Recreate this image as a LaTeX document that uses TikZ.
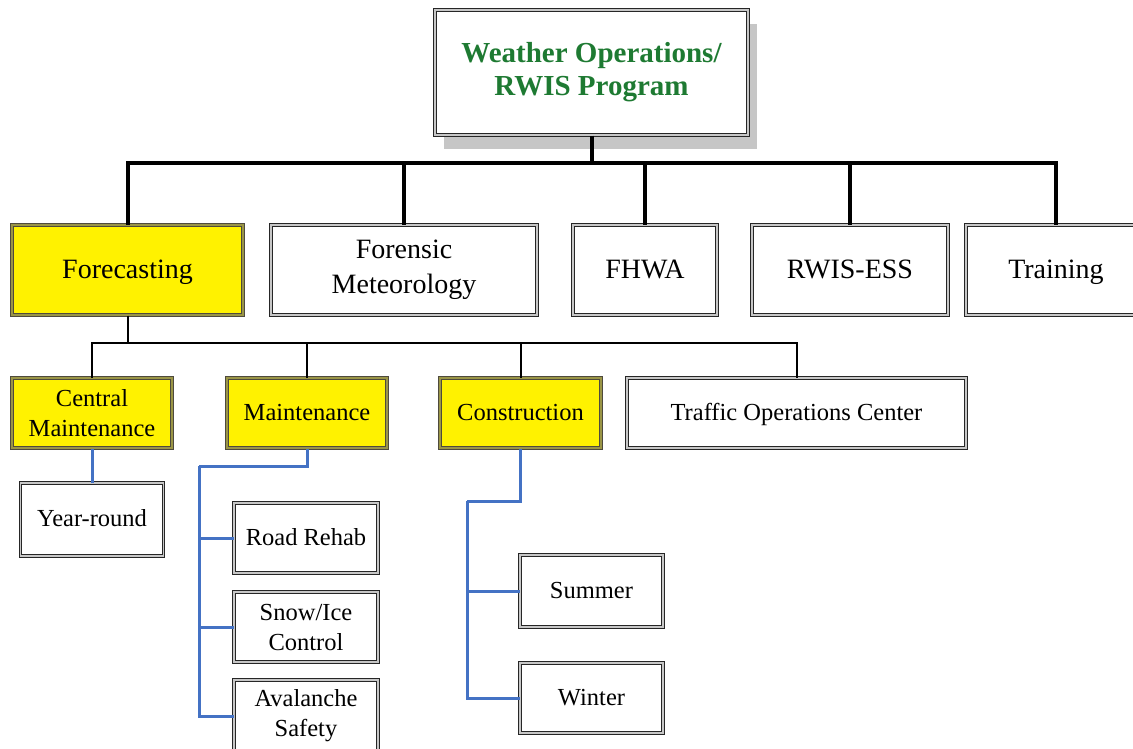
\documentclass[tikz,border=0pt]{standalone}
\usepackage{fontspec}
\setmainfont{Liberation Serif}
\usetikzlibrary{positioning,shadows}
\definecolor{titlegreen}{RGB}{30,122,50}
\definecolor{linkblue}{RGB}{68,114,196}

\begin{document}
\begin{tikzpicture}[x=1pt, y=-1pt,
        box/.style={draw=black!85, double=black!22, double distance=1.8pt, line width=1pt, rectangle, align=center, inner sep=2pt},
        wbox/.style={box, fill=white},
        ybox/.style={box, fill=yellow, draw=black!80!yellow, double=yellow!55!black},
        big/.style={font=\fontsize{28}{35}\selectfont},
        small/.style={font=\fontsize{24.5}{30}\selectfont},
        bigline/.style={text height=20pt, text depth=4pt},
        oneline/.style={text height=17pt, text depth=3pt},
        trunk/.style={line width=4pt},
        branch/.style={line width=2pt},
        twig/.style={line width=3pt, draw=linkblue}
    ]
        \path[use as bounding box, fill=white] (0,0) rectangle (1133,748);

        % Program
        \node[wbox, minimum width=313pt, minimum height=125pt, font=\fontsize{29}{33}\selectfont\bfseries, text=titlegreen,
              drop shadow={shadow xshift=9pt, shadow yshift=-14pt, fill=black!28, opacity=0.8}] (prog) at (591.5,72.5) {Weather Operations/\\RWIS Program};

        % Second level
        \node[ybox, big, bigline, minimum width=231pt, minimum height=90pt] (fore) at (127.5,270) {Forecasting};
        \node[wbox, big, minimum width=266pt, minimum height=90pt] (foren) at (404,270) {Forensic\\Meteorology};
        \node[wbox, big, bigline, minimum width=144pt, minimum height=90pt] (fhwa) at (645,270) {FHWA};
        \node[wbox, big, bigline, minimum width=196pt, minimum height=90pt] (rwis) at (850,270) {RWIS-ESS};
        \node[wbox, big, bigline, minimum width=180pt, minimum height=90pt] (train) at (1056,270) {Training};

        % Forecasting groups
        \node[ybox, small, minimum width=160pt, minimum height=70pt] (cmaint) at (92,413) {Central\\Maintenance};
        \node[ybox, small, oneline, minimum width=160pt, minimum height=70pt] (maint) at (307,413) {Maintenance};
        \node[ybox, small, oneline, minimum width=161pt, minimum height=70pt] (constr) at (520.5,413) {Construction};
        \node[wbox, small, oneline, minimum width=339pt, minimum height=70pt] (toc) at (796.5,413) {Traffic Operations Center};

        % Seasons and tasks
        \node[wbox, small, oneline, minimum width=143pt, minimum height=73pt] (yr) at (92,519.5) {Year-round};
        \node[wbox, small, oneline, minimum width=144pt, minimum height=70pt] (road) at (306,538) {Road Rehab};
        \node[wbox, small, minimum width=144pt, minimum height=70pt] (snow) at (306,627) {Snow/Ice\\Control};
        \node[wbox, small, minimum width=144pt, minimum height=72pt] (aval) at (306,716) {Avalanche\\Safety};
        \node[wbox, small, oneline, minimum width=143pt, minimum height=72pt] (summer) at (591.5,591) {Summer};
        \node[wbox, small, oneline, minimum width=143pt, minimum height=70pt] (winter) at (591.5,698) {Winter};

        \coordinate (bus) at (591.5,163);
        \coordinate (fbus) at (127.5,343);
        \coordinate (mbus) at (199,466);
        \coordinate (cbus) at (467,501);

        \draw[trunk] (prog.south) -- (bus);
        \foreach \c in {fore,foren,fhwa,rwis,train}
            \draw[trunk] (bus) -| (\c.north);

        \draw[branch] (fore.south) -- (fbus);
        \foreach \c in {cmaint,maint,constr,toc}
            \draw[branch] (fbus) -| (\c.north);

        \draw[twig] (cmaint.south) -- (yr.north);
        \draw[twig] (maint.south) |- (mbus);
        \foreach \c in {road,snow,aval}
            \draw[twig] (mbus) |- (\c.west);
        \draw[twig] (constr.south) |- (cbus);
        \foreach \c in {summer,winter}
            \draw[twig] (cbus) |- (\c.west);
    \end{tikzpicture}
\end{document}
